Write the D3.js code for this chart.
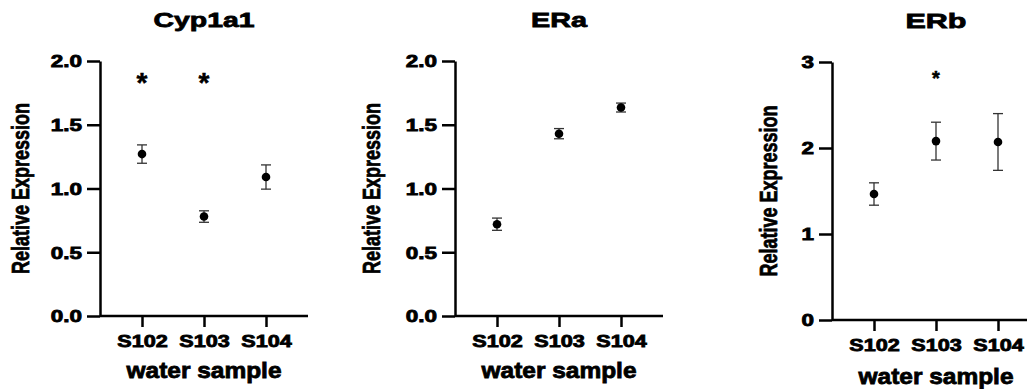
<!DOCTYPE html>
<html>
<head>
<meta charset="utf-8">
<script src="https://cdn.jsdelivr.net/npm/d3@7"></script>
<style>
  html, body { margin: 0; padding: 0; background: #fff; }
  svg { display: block; }
  text { font-family: "Liberation Sans", Arial, sans-serif; font-weight: bold; fill: #000; stroke: #000; stroke-width: 0.8px; }
  .star { stroke-width: 0.5px; }
</style>
</head>
<body>
<div id="chart"></div>
<script>
(function(d3) {
  'use strict';

  var width = 1027;
  var height = 389;

  // data
  var categories = ['S102', 'S103', 'S104'];
  var titles = ['Cyp1a1', 'ERa', 'ERb'];

  var cypMean = [1.27, 0.78, 1.09];
  var cypErr = [0.072, 0.045, 0.095];
  var cypStars = ['*', '*', ''];
  var cypTicks = [0, 0.5, 1.0, 1.5, 2.0];

  var eraMean = [0.72, 1.43, 1.635];
  var eraErr = [0.048, 0.04, 0.035];
  var eraStars = ['', '', ''];
  var eraTicks = [0, 0.5, 1.0, 1.5, 2.0];

  var erbMean = [1.465, 2.08, 2.07];
  var erbErr = [0.13, 0.22, 0.33];
  var erbStars = ['', '*', ''];
  var erbTicks = [0, 1, 2, 3];

  var yLabel = 'Relative Expression';
  var xLabel = 'water sample';

  // panel layout
  var panels = [
    { title: titles[0], mean: cypMean, err: cypErr, stars: cypStars, starAt: 1.88, starSize: 28,
      ticks: cypTicks, fmt: d3.format('.1f'), max: 2,
      left: 100, top: 61, bottom: 316, titleW: 101, ylabX: 29, xlabDy: 62 },
    { title: titles[1], mean: eraMean, err: eraErr, stars: eraStars, starAt: 1.88, starSize: 28,
      ticks: eraTicks, fmt: d3.format('.1f'), max: 2,
      left: 455, top: 61, bottom: 316, titleW: 56, ylabX: 380, xlabDy: 62 },
    { title: titles[2], mean: erbMean, err: erbErr, stars: erbStars, starAt: 2.86, starSize: 20,
      ticks: erbTicks, fmt: d3.format('d'), max: 3,
      left: 832, top: 62, bottom: 320, titleW: 61, ylabX: 777, xlabDy: 64 }
  ];

  var axisW = 208;

  var svg = d3.select('#chart')
    .append('svg')
    .attr('width', width)
    .attr('height', height);

  svg.append('rect')
    .attr('width', width)
    .attr('height', height)
    .attr('fill', '#fff');

  // widen glyphs horizontally like the original export
  function stretch(sel, k) {
    sel.each(function() {
      var w = this.getComputedTextLength();
      d3.select(this)
        .attr('textLength', w * k)
        .attr('lengthAdjust', 'spacingAndGlyphs');
    });
  }

  panels.forEach(function(p) {
    var g = svg.append('g');

    var x = d3.scalePoint()
      .domain(categories)
      .range([p.left + 42, p.left + 166]);

    var y = d3.scaleLinear()
      .domain([0, p.max])
      .range([p.bottom, p.top]);

    // y axis
    var yAxis = g.append('g')
      .attr('transform', 'translate(' + p.left + ',0)')
      .call(d3.axisLeft(y)
        .tickValues(p.ticks)
        .tickFormat(p.fmt)
        .tickSize(13)
        .tickSizeOuter(0)
        .tickPadding(5));

    // x axis
    var xAxis = g.append('g')
      .attr('transform', 'translate(0,' + p.bottom + ')')
      .call(d3.axisBottom(x)
        .tickSize(11)
        .tickSizeOuter(0)
        .tickPadding(9));

    xAxis.select('.domain')
      .attr('d', 'M' + p.left + ',0H' + (p.left + axisW));

    g.selectAll('.domain, .tick line')
      .attr('stroke', '#000')
      .attr('stroke-width', 2.5);

    yAxis.selectAll('text')
      .attr('font-size', 16)
      .attr('font-family', null)
      .attr('dy', '0.36em');
    stretch(yAxis.selectAll('text'), 1.4);

    xAxis.selectAll('text')
      .attr('font-size', 16)
      .attr('font-family', null);
    stretch(xAxis.selectAll('text'), 1.35);

    // title
    g.append('text')
      .attr('x', p.left + 104)
      .attr('y', p.top - 34)
      .attr('text-anchor', 'middle')
      .attr('font-size', 21)
      .attr('textLength', p.titleW)
      .attr('lengthAdjust', 'spacingAndGlyphs')
      .text(p.title);

    // axis titles
    g.append('text')
      .attr('transform', 'translate(' + p.ylabX + ',' + ((p.top + p.bottom) / 2) + ') rotate(-90)')
      .attr('text-anchor', 'middle')
      .attr('font-size', 24)
      .attr('textLength', 171)
      .attr('lengthAdjust', 'spacingAndGlyphs')
      .text(yLabel);

    g.append('text')
      .attr('x', p.left + 104)
      .attr('y', p.bottom + p.xlabDy)
      .attr('text-anchor', 'middle')
      .attr('font-size', 22)
      .attr('textLength', 155)
      .attr('lengthAdjust', 'spacingAndGlyphs')
      .text(xLabel);

    var rows = categories.map(function(c, i) {
      return { cat: c, mean: p.mean[i], err: p.err[i], star: p.stars[i] };
    });

    // error bars
    var bars = g.selectAll('.err')
      .data(rows)
      .enter()
      .append('g')
      .attr('class', 'err')
      .attr('stroke', '#333')
      .attr('stroke-width', 1.3);

    bars.append('line')
      .attr('x1', function(d) { return x(d.cat); })
      .attr('x2', function(d) { return x(d.cat); })
      .attr('y1', function(d) { return y(d.mean + d.err); })
      .attr('y2', function(d) { return y(d.mean - d.err); });

    bars.selectAll('.cap')
      .data(function(d) { return [[d.cat, d.mean + d.err], [d.cat, d.mean - d.err]]; })
      .enter()
      .append('line')
      .attr('class', 'cap')
      .attr('x1', function(d) { return x(d[0]) - 5; })
      .attr('x2', function(d) { return x(d[0]) + 5; })
      .attr('y1', function(d) { return y(d[1]); })
      .attr('y2', function(d) { return y(d[1]); });

    // means
    g.selectAll('.dot')
      .data(rows)
      .enter()
      .append('circle')
      .attr('class', 'dot')
      .attr('cx', function(d) { return x(d.cat); })
      .attr('cy', function(d) { return y(d.mean); })
      .attr('r', 4.3)
      .attr('fill', '#000');

    // significance marks
    g.selectAll('.star')
      .data(rows.filter(function(d) { return d.star; }))
      .enter()
      .append('text')
      .attr('class', 'star')
      .attr('x', function(d) { return x(d.cat); })
      .attr('y', y(p.starAt))
      .attr('dy', '0.55em')
      .attr('text-anchor', 'middle')
      .attr('font-size', p.starSize)
      .text(function(d) { return d.star; });
  });

})(window.d3);
</script>
</body>
</html>
